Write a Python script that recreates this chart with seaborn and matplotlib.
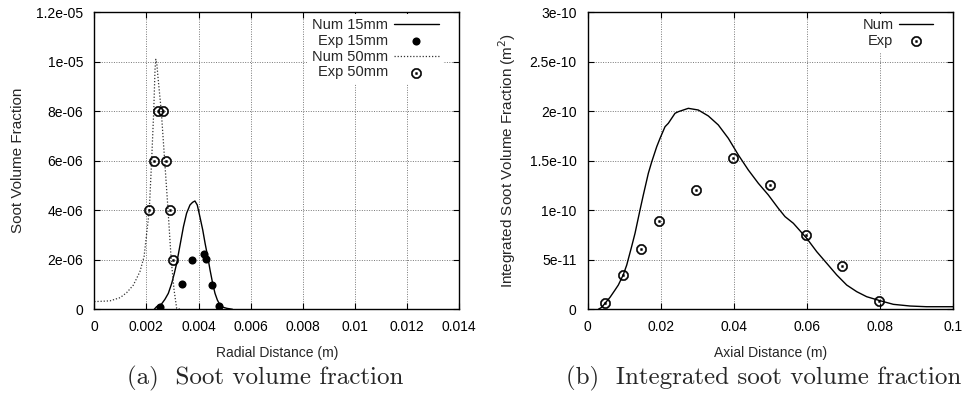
import numpy as np
import pandas as pd
import matplotlib
matplotlib.use("Agg")
import matplotlib.pyplot as plt
import seaborn as sns
from matplotlib.ticker import FixedLocator, FixedFormatter

# ---------------- data: panel (a) ----------------
num15_x = [0.0023, 0.00239, 0.00258, 0.00271, 0.00284, 0.00297, 0.00307,
           0.00316, 0.00329, 0.00342, 0.00354, 0.00367, 0.00377, 0.00386,
           0.00395, 0.00405, 0.00416, 0.00425, 0.00435, 0.00444, 0.00454,
           0.00463, 0.00472, 0.00482, 0.00495, 0.00508, 0.0053]
num15_y = [0.0, 0.106e-6, 0.214e-6, 0.404e-6, 0.645e-6, 1.049e-6, 1.453e-6,
           1.857e-6, 2.598e-6, 3.339e-6, 3.878e-6, 4.214e-6, 4.322e-6,
           4.376e-6, 4.214e-6, 3.743e-6, 3.204e-6, 2.665e-6, 2.127e-6,
           1.588e-6, 1.049e-6, 0.645e-6, 0.376e-6, 0.174e-6, 0.08e-6,
           0.04e-6, 0.0]

exp15_x = [0.00253, 0.00336, 0.00373, 0.00422, 0.00428, 0.00451, 0.00480]
exp15_y = [0.11e-6, 1.02e-6, 1.99e-6, 2.24e-6, 2.03e-6, 1.00e-6, 0.15e-6]

num50_x = [0.0, 0.0006, 0.00099, 0.00124, 0.0015, 0.00175, 0.00191, 0.00201,
           0.00211, 0.0022, 0.00228, 0.00233, 0.00236, 0.0024, 0.00245,
           0.00257, 0.0027, 0.00283, 0.00295, 0.00306, 0.00316, 0.00329]
num50_y = [0.31e-6, 0.34e-6, 0.47e-6, 0.67e-6, 0.98e-6, 1.52e-6, 2.13e-6,
           3.07e-6, 4.01e-6, 6.02e-6, 8.01e-6, 9.7e-6, 10.1e-6, 9.9e-6,
           9.3e-6, 8.0e-6, 6.0e-6, 4.0e-6, 2.0e-6, 0.78e-6, 0.04e-6, 0.0]

exp50_x = [0.00243, 0.00263, 0.0023, 0.00274, 0.00208, 0.0029, 0.00302]
exp50_y = [8e-6, 8e-6, 6e-6, 6e-6, 4e-6, 4e-6, 2e-6]

a_xticks = [0, 0.002, 0.004, 0.006, 0.008, 0.01, 0.012, 0.014]
a_xticklabels = ["0", "0.002", "0.004", "0.006", "0.008", "0.01", "0.012", "0.014"]
a_yticks = [0, 2e-6, 4e-6, 6e-6, 8e-6, 1e-5, 1.2e-5]
a_yticklabels = ["0", "2e-06", "4e-06", "6e-06", "8e-06", "1e-05", "1.2e-05"]

# ---------------- data: panel (b) ----------------
num_x = [0.0029, 0.00383, 0.00473, 0.0061, 0.00747, 0.00837, 0.0097,
         0.01067, 0.0120, 0.01294, 0.0143, 0.01521, 0.01658, 0.01751,
         0.01887, 0.01978, 0.02114, 0.02205, 0.02388, 0.02478, 0.02752,
         0.03025, 0.03299, 0.03572, 0.03846, 0.0412, 0.04393, 0.04666,
         0.0494, 0.05213, 0.05397, 0.05624, 0.0599, 0.06264, 0.06537,
         0.06811, 0.07084, 0.07358, 0.07631, 0.07995, 0.0836, 0.0882,
         0.0927, 0.1]
num_y = [0.0, 0.2e-11, 0.61e-11, 1.21e-11, 1.95e-11, 2.45e-11, 3.47e-11,
         4.47e-11, 6.32e-11, 7.68e-11, 10.03e-11, 11.55e-11, 13.74e-11,
         14.9e-11, 16.42e-11, 17.27e-11, 18.44e-11, 18.79e-11, 19.8e-11,
         19.96e-11, 20.3e-11, 20.13e-11, 19.53e-11, 18.62e-11, 17.27e-11,
         15.59e-11, 14.07e-11, 12.73e-11, 11.55e-11, 10.2e-11, 9.36e-11,
         8.69e-11, 7.17e-11, 5.82e-11, 4.65e-11, 3.47e-11, 2.45e-11,
         1.78e-11, 1.27e-11, 0.87e-11, 0.5e-11, 0.33e-11, 0.26e-11, 0.26e-11]

exp_x = [0.0047, 0.0097, 0.0147, 0.0196, 0.0296, 0.0397, 0.0498, 0.0597,
         0.0696, 0.0796]
exp_y = [0.67e-11, 3.47e-11, 6.09e-11, 8.96e-11, 12.02e-11, 15.25e-11,
         12.53e-11, 7.47e-11, 4.41e-11, 0.84e-11]

b_xticks = [0, 0.02, 0.04, 0.06, 0.08, 0.1]
b_xticklabels = ["0", "0.02", "0.04", "0.06", "0.08", "0.1"]
b_yticks = [0, 5e-11, 1e-10, 1.5e-10, 2e-10, 2.5e-10, 3e-10]
b_yticklabels = ["0", "5e-11", "1e-10", "1.5e-10", "2e-10", "2.5e-10", "3e-10"]

# ---------------- style ----------------
sns.set_style("ticks")
plt.rcParams["font.family"] = ["Liberation Sans", "DejaVu Sans"]
plt.rcParams["font.size"] = 10
plt.rcParams["lines.solid_joinstyle"] = "round"

fig = plt.figure(figsize=(9.7, 3.93), dpi=100)
axA = fig.add_axes([0.0972, 0.213, 0.3763, 0.7557])
axB = fig.add_axes([0.6059, 0.213, 0.3769, 0.7557])

ODOT = r"$\odot$"

# panel (a)
sns.lineplot(x=num15_x, y=num15_y, ax=axA, color="black", lw=1.0,
             label="Num 15mm", sort=False)
sns.scatterplot(x=exp15_x, y=exp15_y, ax=axA, color="black", marker="o",
                s=34, linewidth=0, label="Exp 15mm", zorder=3)
sns.lineplot(x=num50_x, y=num50_y, ax=axA, color="#333333", lw=0.9,
             linestyle=(0, (1, 1.5)), label="Num 50mm", sort=False)
sns.scatterplot(x=exp50_x, y=exp50_y, ax=axA, color="black", marker=ODOT,
                s=55, linewidth=0.4, edgecolor="black", label="Exp 50mm",
                zorder=3)

# panel (b)
sns.lineplot(x=num_x, y=num_y, ax=axB, color="black", lw=1.0,
             label="Num", sort=False)
sns.scatterplot(x=exp_x, y=exp_y, ax=axB, color="black", marker=ODOT,
                s=55, linewidth=0.4, edgecolor="black", label="Exp", zorder=3)


def style_axes(ax, xt, xtl, yt, ytl, xlim, ylim, xlabel, ylabel):
    ax.set_xlim(*xlim)
    ax.set_ylim(*ylim)
    ax.xaxis.set_major_locator(FixedLocator(xt))
    ax.xaxis.set_major_formatter(FixedFormatter(xtl))
    ax.yaxis.set_major_locator(FixedLocator(yt))
    ax.yaxis.set_major_formatter(FixedFormatter(ytl))
    ax.tick_params(direction="in", length=4, width=0.8, top=True, right=True,
                   labelsize=10, colors="black")
    ax.tick_params(axis="x", pad=8)
    ax.tick_params(axis="y", pad=8)
    ax.grid(True, color="#777777", linestyle=(0, (1, 1.5)), linewidth=0.7)
    ax.set_axisbelow(True)
    for sp in ax.spines.values():
        sp.set_visible(True)
        sp.set_color("black")
        sp.set_linewidth(1.0)
    ax.set_xlabel(xlabel, fontsize=10, labelpad=8)
    ax.set_ylabel(ylabel, fontsize=11, labelpad=8)


style_axes(axA, a_xticks, a_xticklabels, a_yticks, a_yticklabels,
           (0, 0.014), (0, 1.2e-5), "Radial Distance (m)", "Soot Volume Fraction")
style_axes(axB, b_xticks, b_xticklabels, b_yticks, b_yticklabels,
           (0, 0.1), (0, 3e-10), "Axial Distance (m)",
           r"Integrated Soot Volume Fraction (m$^2$)")

legA = axA.legend(loc="upper right", bbox_to_anchor=(0.96, 1.0),
                  markerfirst=False, frameon=True, fancybox=False,
                  framealpha=1, edgecolor="none", facecolor="white",
                  fontsize=10.5, handlelength=3.1, handletextpad=0.4,
                  labelspacing=0.12, borderpad=0.3, borderaxespad=0.1)
legB = axB.legend(loc="upper right", bbox_to_anchor=(0.96, 1.0),
                  markerfirst=False, frameon=True, fancybox=False,
                  framealpha=1, edgecolor="none", facecolor="white",
                  fontsize=10.5, handlelength=2.3, handletextpad=0.4,
                  labelspacing=0.12, borderpad=0.3, borderaxespad=0.1)

fig.text(265 / 970, 1 - 378 / 393, "(a)  Soot volume fraction",
         fontfamily="cmr10", fontsize=18, ha="center", va="center")
fig.text(764 / 970, 1 - 378 / 393, "(b)  Integrated soot volume fraction",
         fontfamily="cmr10", fontsize=18, ha="center", va="center")

fig.savefig("out.png", dpi=100)
